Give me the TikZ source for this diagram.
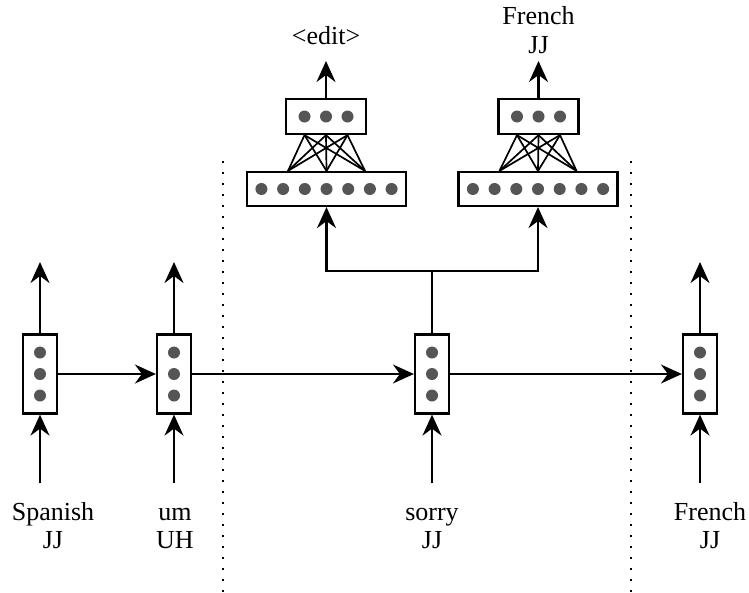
\documentclass[tikz,border=0pt]{standalone}
\usepackage{fontspec}
\setmainfont{Liberation Serif}
\usetikzlibrary{arrows.meta,calc}
\definecolor{dotgray}{HTML}{555555}
\newcommand\lblfont{\fontsize{26}{29}\selectfont}
\begin{document}
\begin{tikzpicture}[x=1pt,y=-1pt,
  cell/.style={draw, line width=2.2pt, fill=white, inner sep=0, minimum width=34pt, minimum height=79pt},
  wide/.style={draw, line width=2.2pt, fill=white, inner sep=0, minimum width=159pt, minimum height=34pt},
  small/.style={draw, line width=2.2pt, fill=white, inner sep=0, minimum width=80pt, minimum height=35pt},
  arr/.style={line width=2.2pt, -{Stealth[length=21pt,width=19pt,inset=7pt]}},
  plain/.style={line width=2.2pt},
  conn/.style={line width=1.7pt},
  dotline/.style={line width=2pt, dash pattern=on 2pt off 9pt},
  lbl/.style={font=\lblfont, inner sep=0, anchor=base}]
\useasboundingbox (0,0) rectangle (749,592);

% dotted separators
\draw[dotline] (223,161) -- (223,592);
\draw[dotline] (631,161) -- (631,592);

% recurrent cells
\node[cell] (c1) at (40,374) {};
\node[cell] (c2) at (174,374) {};
\node[cell] (c3) at (432,374) {};
\node[cell] (c4) at (700,374) {};
\foreach \n in {c1,c2,c3,c4}
  \foreach \d in {-21.5,0,21.5}
    \fill[dotgray] ($(\n)+(0,\d)$) circle (6);

% classifier networks
\node[wide] (w1) at (326.5,189) {};
\node[wide] (w2) at (538,189) {};
\node[small] (s1) at (326,116.5) {};
\node[small] (s2) at (538.5,116.5) {};
\foreach \n in {w1,w2}
  \foreach \k in {-3,...,3}
    \fill[dotgray] ($(\n)+(\k*21.7,0)$) circle (6);
\foreach \n in {s1,s2}
  \foreach \k in {-1,0,1}
    \fill[dotgray] ($(\n)+(\k*21.5,0)$) circle (6);
\foreach \n/\m in {s1/w1,s2/w2}
  \foreach \a in {-1,0,1}
    \foreach \b in {-1,0,1}
      \draw[conn] ($(\n.south)+(\a*21.5,0)$) -- ($(\m.north)+(\b*38.5,0)$);

% outputs of networks
\coordinate (o1) at (326,61);
\coordinate (o2) at (538.5,61);
\draw[arr] (s1.north) -- (o1);
\draw[arr] (s2.north) -- (o2);
\node[lbl] (t1) at (326,44) {<edit>};
\node[lbl] (t2a) at (538.5,24) {French};
\node[lbl] (t2b) at (538.5,53) {JJ};

% split from sorry cell
\coordinate (sp) at (432,271);
\draw[plain] (c3.north) -- (sp);
\draw[arr] (sp) -| (w1.south);
\draw[arr] (sp) -| (w2.south);

% upward outputs of cells
\coordinate (u1) at (40,262);
\coordinate (u2) at (174,262);
\coordinate (u4) at (700,262);
\draw[arr] (c1.north) -- (u1);
\draw[arr] (c2.north) -- (u2);
\draw[arr] (c4.north) -- (u4);

% horizontal recurrent arrows
\draw[arr] (c1.east) -- (c2.west);
\draw[arr] (c2.east) -- (c3.west);
\draw[arr] (c3.east) -- (c4.west);

% inputs
\coordinate (b1) at (40,483);
\coordinate (b2) at (174,483);
\coordinate (b3) at (432,483);
\coordinate (b4) at (700,483);
\draw[arr] (b1) -- (c1.south);
\draw[arr] (b2) -- (c2.south);
\draw[arr] (b3) -- (c3.south);
\draw[arr] (b4) -- (c4.south);

% input labels
\node[lbl] (l1a) at (53,520) {Spanish};
\node[lbl] (l1b) at (53,548) {JJ};
\node[lbl] (l2a) at (175,520) {um};
\node[lbl] (l2b) at (175,548) {UH};
\node[lbl] (l3a) at (432,520) {sorry};
\node[lbl] (l3b) at (432,548) {JJ};
\node[lbl] (l4a) at (710,520) {French};
\node[lbl] (l4b) at (710,548) {JJ};
\end{tikzpicture}
\end{document}
